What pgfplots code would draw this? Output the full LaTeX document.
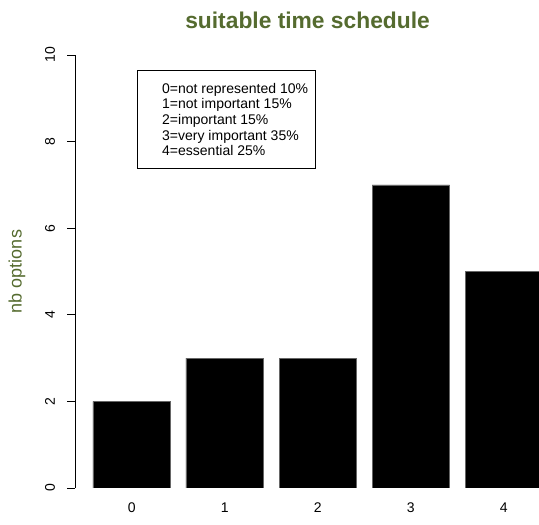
\documentclass[border=0pt]{standalone}
\usepackage{pgfplots}
\pgfplotsset{compat=1.18}
\usepackage{fontspec}
\setmainfont{Liberation Sans}
\definecolor{olivetitle}{HTML}{556B2F}
\begin{document}
\begin{tikzpicture}[x=1pt,y=1pt]
\useasboundingbox (0,0) rectangle (539,525);
\clip (0,0) rectangle (539,525);
\begin{axis}[
 scale only axis, width=485.5pt, height=433pt,
 at={(75pt,37pt)}, anchor=south west,
 xmin=-0.61, xmax=4.61, ymin=0, ymax=10,
 enlargelimits=false,
 axis lines*=left,
 x axis line style={draw=none},
 y axis line style={line width=0.6pt},
 xtick={0,1,2,3,4}, xtick style={draw=none},
 ytick={0,2,4,6,8,10},
 tick align=outside, major tick length=8pt,
 ytick style={black, line width=0.6pt},
 /pgf/number format/assume math mode=true,
 ticklabel style={font=\fontsize{14}{16}\selectfont},
 yticklabel style={rotate=90, anchor=center, yshift=17pt},
 xticklabel style={anchor=center, yshift=-12pt},
 ylabel={nb options},
 ylabel style={at={(axis description cs:-0.1195,0.5)}, anchor=center, font=\fontsize{18}{20}\selectfont, text=olivetitle},
 title={suitable time schedule},
 title style={at={(axis description cs:0.479,1.066)}, anchor=center, font=\fontsize{22.8}{24}\selectfont\bfseries, text=olivetitle},
 ybar, bar width=77.5pt,
]
\addplot[fill=black, draw=black!60, line width=0.5pt] coordinates {(0,2) (1,3) (2,3) (3,7) (4,5)};
\end{axis}
\draw[line width=0.6pt] (137,357) rectangle (315,455);
\node[anchor=west, align=left, font=\fontsize{14}{15.7}\selectfont, inner sep=0pt] at (162,405.5) {0=not represented 10\%\\1=not important 15\%\\2=important 15\%\\3=very important 35\%\\4=essential 25\%};
\end{tikzpicture}
\end{document}
